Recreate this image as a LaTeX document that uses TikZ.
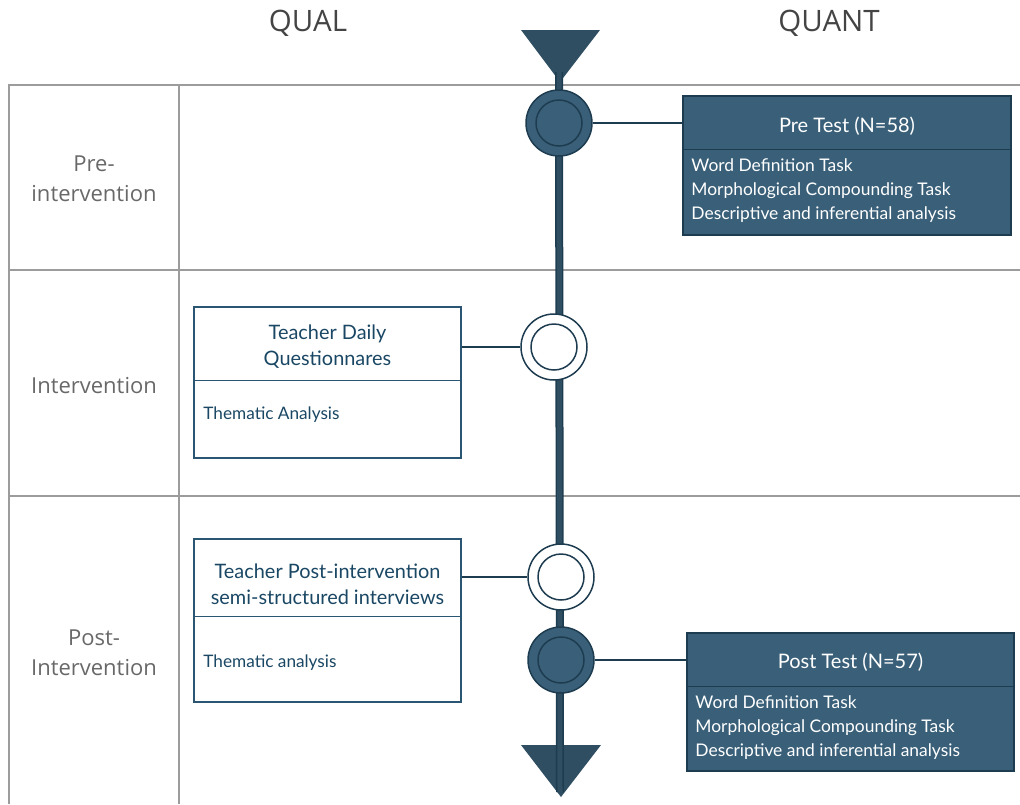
\documentclass[tikz,border=0pt]{standalone}
\usepackage{fontspec}
\setmainfont{Lato}
\newfontfamily\opensans{Open Sans}
\usepackage{tikz}
\usepackage{xcolor}
\usetikzlibrary{positioning}
\definecolor{slate}{HTML}{3A6079}
\definecolor{slatedark}{HTML}{1E3C50}
\definecolor{tri}{HTML}{2F4E62}
\definecolor{gridgray}{HTML}{9C9C9C}
\definecolor{labelgray}{HTML}{686868}
\definecolor{headgray}{HTML}{444444}
\definecolor{qualtext}{HTML}{1A4764}
\definecolor{qualedge}{HTML}{2A5573}

\begin{document}
\begin{tikzpicture}[x=1pt,y=-1pt]
\tikzstyle{every node}+=[inner sep=0pt]
\tikzstyle{head}=[font=\opensans\fontsize{29.5}{34}\selectfont, text=headgray]
\tikzstyle{rowlabel}=[font=\opensans\fontsize{22}{30}\selectfont, text=labelgray, align=center]
\tikzstyle{quantbox}=[draw=slatedark, fill=slate, line width=1.5]
\tikzstyle{qualbox}=[draw=qualedge, fill=white, line width=1.5]
\tikzstyle{quanttitle}=[font=\fontsize{20}{26}\selectfont, text=white]
\tikzstyle{quantbody}=[font=\fontsize{17.4}{24}\selectfont, text=white, align=left, anchor=west]
\tikzstyle{qualtitle}=[font=\fontsize{19.9}{26.5}\selectfont, text=qualtext, align=center]
\tikzstyle{qualbody}=[font=\fontsize{17.2}{24}\selectfont, text=qualtext, anchor=west]
\tikzstyle{stage}=[circle, minimum size=66pt, draw=slatedark, line width=1.5]
\tikzstyle{link}=[draw=slatedark, line width=1.5]
\useasboundingbox (0,0) rectangle (1020,804);
% grid
\draw [gridgray, line width=2] (9,804) -- (9,85) -- (1020,85);
\draw [gridgray, line width=2] (179,804) -- (179,85);
\draw [gridgray, line width=2] (9,270) -- (1020,270);
\draw [gridgray, line width=2] (9,496) -- (1020,496);
\node [head] (qual) at (308,23) {QUAL};
\node [head] (quant) at (829,23) {QUANT};
\node [rowlabel] (pre) at (94,179) {Pre-\\intervention};
\node [rowlabel] (inter) at (94,386) {Intervention};
\node [rowlabel] (post) at (94,653) {Post-\\Intervention};
% timeline
\coordinate (top) at (559,72);
\coordinate (bottom) at (560,792);
\fill [tri] (521,30) -- (600,30) -- (560,82) -- cycle;
\fill [tri] (521,745) -- (601,745) -- (561,797) -- cycle;
\draw [slatedark, line width=1.5, double=tri, double distance=5] (top) -- (bottom);
\node [stage, fill=slate] (s1) at (559,123) {};
\node [stage, fill=white] (s2) at (554,347) {};
\node [stage, fill=white] (s3) at (561,577) {};
\node [stage, fill=slate] (s4) at (561,660) {};
\foreach \s in {s1,s2,s3,s4}
  \draw [slatedark, line width=1.5] (\s) circle (23pt);
% quant boxes
\node [quantbox, minimum width=328pt, minimum height=139pt] (pretest) at (847,165.5) {};
\draw [link] ([yshift=-54pt]pretest.north west) -- ([yshift=-54pt]pretest.north east);
\node [quanttitle] (pretitle) at ([yshift=-31pt]pretest.north) {Pre Test (N=58)};
\node [quantbody] (prebody) at ([xshift=9pt,yshift=-95pt]pretest.north west)
  {Word Definition Task\\Morphological Compounding Task\\Descriptive and inferential analysis};
\node [quantbox, minimum width=327pt, minimum height=138pt] (posttest) at (850.5,702) {};
\draw [link] ([yshift=-54pt]posttest.north west) -- ([yshift=-54pt]posttest.north east);
\node [quanttitle] (posttitle) at ([yshift=-30pt]posttest.north) {Post Test (N=57)};
\node [quantbody] (postbody) at ([xshift=9pt,yshift=-95pt]posttest.north west)
  {Word Definition Task\\Morphological Compounding Task\\Descriptive and inferential analysis};
% qual boxes
\node [qualbox, minimum width=267pt, minimum height=151pt] (daily) at (327.5,382.5) {};
\draw [qualedge, line width=1.5] ([yshift=-74pt]daily.north west) -- ([yshift=-74pt]daily.north east);
\node [qualtitle] (dailytitle) at ([yshift=-40.5pt]daily.north) {Teacher Daily\\Questionnares};
\node [qualbody] (dailybody) at ([xshift=10pt,yshift=-108pt]daily.north west) {Thematic Analysis};
\node [qualbox, minimum width=267pt, minimum height=163pt] (interview) at (327.5,620.5) {};
\draw [qualedge, line width=1.5] ([yshift=-78pt]interview.north west) -- ([yshift=-78pt]interview.north east);
\node [qualtitle] (interviewtitle) at ([yshift=-46pt]interview.north) {Teacher Post-intervention\\semi-structured interviews};
\node [qualbody] (interviewbody) at ([xshift=10pt,yshift=-124pt]interview.north west) {Thematic analysis};
% links
\draw [link] (s1.east) -- (s1.east -| pretest.west);
\draw [link] (s2.west -| daily.east) -- (s2.west);
\draw [link] (s3.west -| interview.east) -- (s3.west);
\draw [link] (s4.east) -- (s4.east -| posttest.west);
\end{tikzpicture}
\end{document}
